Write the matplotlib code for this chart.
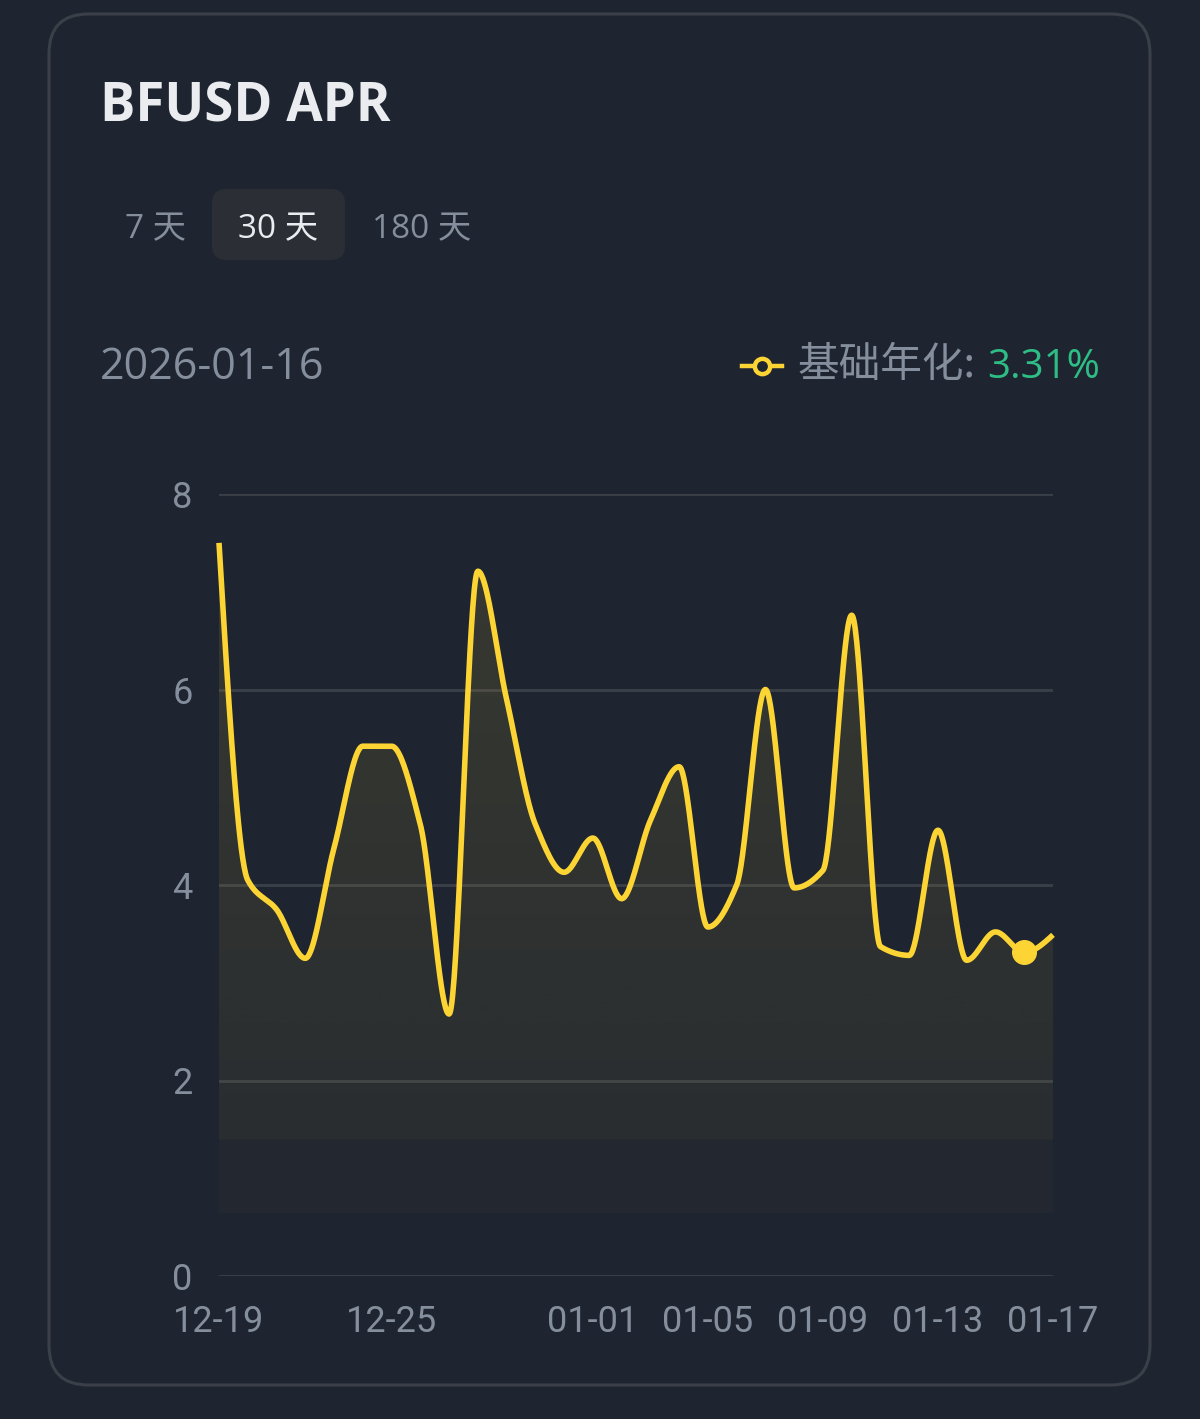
import numpy as np
import matplotlib
matplotlib.use("Agg")
import matplotlib.pyplot as plt
from matplotlib.patches import FancyBboxPatch, Polygon
from matplotlib.lines import Line2D

# ---------------- data ----------------
title = "BFUSD APR"
tabs = ["7 天", "30 天", "180 天"]
active_tab = 1
selected_date = "2026-01-16"
legend_label = "基础年化:"
legend_value = "3.31%"

days = list(range(30))  # 12-19 ... 01-17
apr = [7.50, 4.05, 3.75, 3.25, 4.38, 5.42, 5.42, 4.62, 2.68, 7.21,
       5.90, 4.62, 4.13, 4.48, 3.86, 4.66, 5.21, 3.57, 4.00, 6.00,
       3.97, 4.15, 6.76, 3.37, 3.28, 4.56, 3.23, 3.52, 3.31, 3.49]
highlight_day = 28

xtick_pos = [0, 6, 13, 17, 21, 25, 29]
xtick_labels = ["12-19", "12-25", "01-01", "01-05", "01-09", "01-13", "01-17"]
ytick_vals = [0, 2, 4, 6, 8]

# ---------------- style ----------------
W, H = 1200, 1419
BG = "#1f2530"
CARD_EDGE = "#3a3f48"
GRID = "#3a3f48"
YELLOW = "#fcd535"
GRAY = "#848e9c"
GREEN = "#2ebd85"
WHITE = "#eaecef"
TAB_BG = "#2b2f35"

plt.rcParams['font.family'] = ['Roboto', 'Noto Sans CJK SC', 'DejaVu Sans']


def monotone(x, y, n=40):
    x = np.asarray(x, float)
    y = np.asarray(y, float)
    h = np.diff(x)
    d = np.diff(y) / h
    m = np.zeros_like(y)
    for i in range(1, len(y) - 1):
        if d[i - 1] * d[i] > 0:
            m[i] = (2 * d[i - 1] * d[i]) / (d[i - 1] + d[i])
    m[0] = (3 * d[0] - m[1]) / 2
    m[-1] = (3 * d[-1] - m[-2]) / 2
    xs, ys = [], []
    for i in range(len(x) - 1):
        t = np.linspace(0, 1, n, endpoint=(i == len(x) - 2))
        h00 = 2 * t**3 - 3 * t**2 + 1
        h10 = t**3 - 2 * t**2 + t
        h01 = -2 * t**3 + 3 * t**2
        h11 = t**3 - t**2
        xs.append(x[i] + t * h[i])
        ys.append(h00 * y[i] + h10 * h[i] * m[i] + h01 * y[i + 1] + h11 * h[i] * m[i + 1])
    return np.concatenate(xs), np.concatenate(ys)


fig = plt.figure(figsize=(W / 100, H / 100), dpi=100)
fig.patch.set_facecolor(BG)


def fx(px):
    return px / W


def fy(py):
    return 1 - py / H


# card
card = FancyBboxPatch((fx(49), fy(1385)), fx(1150) - fx(49), fy(14) - fy(1385),
                      boxstyle="round,pad=0,rounding_size=0.033",
                      transform=fig.transFigure, facecolor='none', edgecolor=CARD_EDGE,
                      linewidth=2.2, mutation_aspect=W / H, zorder=-10)
fig.patches.append(card)

# title
fig.text(fx(100), fy(108), title, color=WHITE, fontsize=38, fontweight='bold',
         family=['Open Sans', 'DejaVu Sans'], va='center', ha='left')

# tabs
tab_box = FancyBboxPatch((fx(212), fy(260)), fx(345) - fx(212), fy(189) - fy(260),
                         boxstyle="round,pad=0,rounding_size=0.012",
                         transform=fig.transFigure, facecolor=TAB_BG, edgecolor='none',
                         mutation_aspect=W / H, zorder=-5)
fig.patches.append(tab_box)
tab_x = [155, 278, 422]
for i, (t, x) in enumerate(zip(tabs, tab_x)):
    fig.text(fx(x), fy(230), t, color=WHITE if i == active_tab else GRAY, fontsize=24,
             family=['Open Sans', 'Noto Sans CJK SC'], va='center', ha='center')

# date and legend
fig.text(fx(100), fy(368), selected_date, color=GRAY, fontsize=31,
         family=['Open Sans', 'DejaVu Sans'], va='center', ha='left')
fig.add_artist(Line2D([fx(742), fx(782)], [fy(366), fy(366)], transform=fig.transFigure,
                      color=YELLOW, linewidth=3.2))
fig.add_artist(Line2D([fx(762)], [fy(366)], transform=fig.transFigure, marker='o',
                      markersize=11, markerfacecolor=BG, markeredgecolor=YELLOW,
                      markeredgewidth=3.2))
fig.text(fx(1100), fy(368), legend_value, color=GREEN, fontsize=29,
         family=['Open Sans', 'DejaVu Sans'], va='center', ha='right')
fig.text(fx(976), fy(366), legend_label, color=GRAY, fontsize=30,
         family=['Noto Sans CJK SC', 'DejaVu Sans'], va='center', ha='right')

# chart axes
ax = fig.add_axes([fx(219), fy(1276), fx(1053) - fx(219), fy(494) - fy(1276)])
ax.set_facecolor('none')
ax.set_xlim(0, 29)
ax.set_ylim(0, 8)
for s in ax.spines.values():
    s.set_visible(False)
ax.set_yticks(ytick_vals)
ax.set_yticklabels([str(v) for v in ytick_vals])
ax.set_xticks(xtick_pos)
ax.set_xticklabels(xtick_labels)
ax.tick_params(length=0, colors=GRAY, labelsize=26)
ax.tick_params(axis='y', pad=19)
ax.tick_params(axis='x', pad=20)
ax.grid(axis='y', color=GRID, linewidth=2)
ax.set_axisbelow(True)

xs, ys = monotone(days, apr)
base = 0.645
poly = Polygon(np.column_stack([np.r_[xs, xs[-1], xs[0]], np.r_[ys, base, base]]),
               closed=True, facecolor='none', edgecolor='none')
ax.add_patch(poly)
grad_y = np.linspace(8, base, 400)
alpha = np.where(grad_y > 1.39, 0.05 + (grad_y - 1.39) / (8 - 1.39) * 0.07, 0.018)
rgba = np.zeros((400, 1, 4))
rgba[..., 0] = 252 / 255
rgba[..., 1] = 213 / 255
rgba[..., 2] = 53 / 255
rgba[:, 0, 3] = alpha
im = ax.imshow(rgba, extent=[0, 29, base, 8], aspect='auto', origin='upper', zorder=1,
               interpolation='bilinear')
im.set_clip_path(poly)

ax.plot(xs, ys, color=YELLOW, linewidth=4.0, zorder=3, solid_capstyle='butt',
        clip_on=False)
ax.plot([highlight_day], [apr[highlight_day]], 'o', color=YELLOW, markersize=17,
        zorder=4, clip_on=False)

fig.savefig("out.png", dpi=100, facecolor=BG)
